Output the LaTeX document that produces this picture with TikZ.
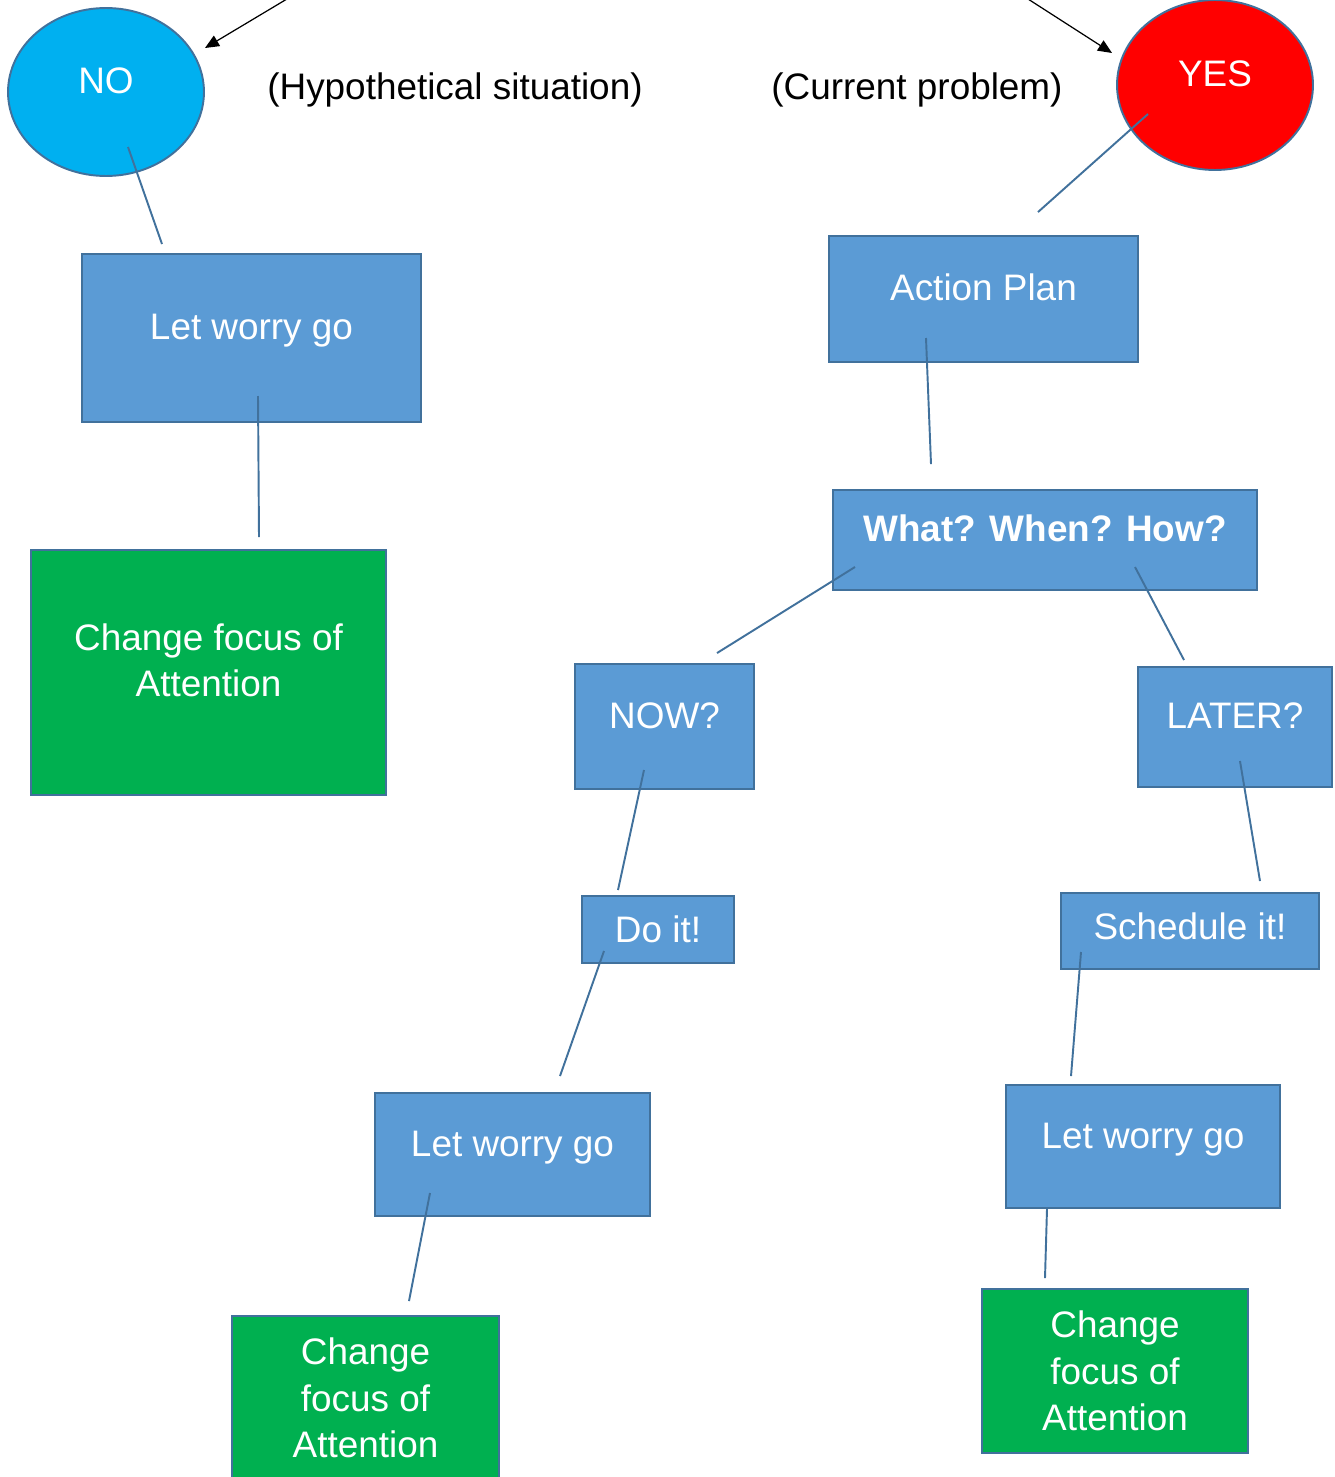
\documentclass[tikz,border=0pt]{standalone}
\usepackage{fontspec}
\setmainfont{Liberation Sans}
\usetikzlibrary{shapes.geometric, arrows.meta, positioning}
\definecolor{boxblue}{HTML}{5B9BD5}
\definecolor{rimblue}{HTML}{41719C}
\definecolor{okgreen}{HTML}{00B050}
\definecolor{noblue}{HTML}{00B0F0}
\tikzset{
x=0.02cm, y=-0.02cm, % one unit is one pixel of the sketch, y runs down
every node/.style={font=\fontsize{21}{26.5}\selectfont}, % big sans text everywhere
box/.style={draw=rimblue, line width=1.1pt, fill=boxblue, text=white, align=center}, % the blue steps
focus/.style={box, fill=okgreen}, % the green end boxes
answer/.style={ellipse, draw=rimblue, line width=1.1pt, text=white}, % the yes/no circles
lift/.style={text height=15pt, text depth=#1}, % pushes the text up a bit
lift/.default=13pt,
link/.style={draw=rimblue, line width=1.1pt}, % plain connecting lines
pointer/.style={-{Triangle[length=0.28cm,width=0.24cm]}, line width=0.7pt}, % arrows coming in from above
}

\begin{document}
\begin{tikzpicture}
    \useasboundingbox (0,0) rectangle (1335,1477);
    % the two answers
    \node[answer, fill=noblue, minimum width=3.92cm, minimum height=3.36cm, lift] (no) at (106,92) {NO};
    \node[answer, fill=red, minimum width=3.92cm, minimum height=3.40cm, lift] (yes) at (1215,85) {YES};
    \node (hyp) at (455,90) {(Hypothetical situation)};
    \node (cur) at (917,90) {(Current problem)};
    \coordinate (from1) at (302,-10);
    \coordinate (from2) at (1014,-10);
    \draw[pointer] (from1) -- ([shift={(99,-44)}]no.center);
    \draw[pointer] (from2) -- ([shift={(-103,-32)}]yes.center);
    % left branch
    \node[box, lift, minimum width=6.78cm, minimum height=3.36cm] (lw1) at (251.5,338) {Let worry go};
    \node[focus, text height=40.7pt, text depth=13pt, minimum width=7.1cm, minimum height=4.9cm] (cf1) at (208.5,672.5) {Change focus of\\Attention};
    % right branch
    \node[box, lift, minimum width=6.18cm, minimum height=2.52cm] (plan) at (983.5,299) {Action Plan};
    \node[box, lift, minimum width=8.48cm, minimum height=2.0cm, font=\fontsize{21}{26.5}\selectfont\bfseries] (ask) at (1045,540) {What? When? How?};
    \node[box, lift, minimum width=3.58cm, minimum height=2.5cm] (now) at (664.5,726.5) {NOW?};
    \node[box, lift, minimum width=3.88cm, minimum height=2.4cm] (later) at (1235,727) {LATER?};
    \node[box, minimum width=3.04cm, minimum height=1.34cm] (doit) at (658,929.5) {Do it!};
    \node[box, lift=5.6pt, minimum width=5.16cm, minimum height=1.52cm] (sched) at (1190,931) {Schedule it!};
    \node[box, lift, minimum width=5.5cm, minimum height=2.46cm] (lw2) at (512.5,1154.5) {Let worry go};
    \node[box, lift, minimum width=5.48cm, minimum height=2.46cm] (lw3) at (1143,1146.5) {Let worry go};
    \node[focus, minimum width=5.34cm, minimum height=3.28cm] (cf2) at (365.5,1398) {Change\\focus of\\Attention};
    \node[focus, minimum width=5.32cm, minimum height=3.28cm] (cf3) at (1115,1371) {Change\\focus of\\Attention};
    % connecting lines
    \draw[link] ([shift={(22,55)}]no.center) -- ([shift={(-89.5,-9)}]lw1.north);
    \draw[link] ([shift={(6.5,58)}]lw1.center) -- ([shift={(50.5,-12)}]cf1.north);
    \draw[link] ([shift={(-67,29)}]yes.center) -- ([shift={(54.5,-23)}]plan.north);
    \draw[link] ([shift={(-57.5,39)}]plan.center) -- ([shift={(-114,-25)}]ask.north);
    \draw[link] ([shift={(-190,27)}]ask.center) -- ([shift={(52.5,-10)}]now.north);
    \draw[link] ([shift={(90,27)}]ask.center) -- ([shift={(-51,-6)}]later.north);
    \draw[link] ([shift={(-20.5,43.5)}]now.center) -- ([shift={(-40,-5)}]doit.north);
    \draw[link] ([shift={(-54,21.5)}]doit.center) -- ([shift={(47.5,-16)}]lw2.north);
    \draw[link] ([shift={(-82.5,38.5)}]lw2.center) -- ([shift={(43.5,-14)}]cf2.north);
    \draw[link] ([shift={(5,34)}]later.center) -- ([shift={(70,-11)}]sched.north);
    \draw[link] ([shift={(-109,21)}]sched.center) -- ([shift={(-72,-8)}]lw3.north);
    \draw[link] ([shift={(-96,0)}]lw3.south) -- ([shift={(-70,-10)}]cf3.north);
\end{tikzpicture}
\end{document}
